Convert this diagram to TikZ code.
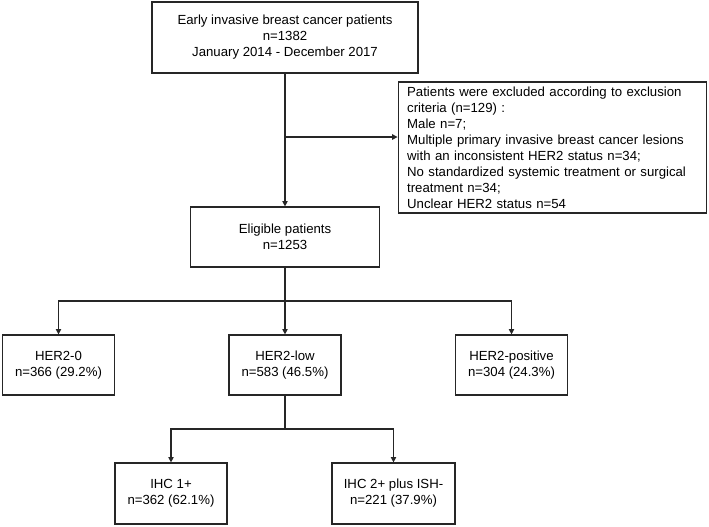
\documentclass[tikz,border=0pt]{standalone}
\usepackage{fontspec}
\setmainfont{Liberation Sans}
\usetikzlibrary{arrows.meta}
\begin{document}
\begin{tikzpicture}[x=0.75pt,y=-0.75pt,
  box/.style={draw=black!85,line width=0.9pt,align=center,
    font=\fontsize{9.9}{12}\selectfont,minimum height=45pt},
  arr/.style={draw=black!85,line width=0.8pt,-{Triangle[length=4pt,width=4pt]}},
  ln/.style={draw=black!85,line width=0.8pt}]
\useasboundingbox (0,0) rectangle (709,526);
% coordinates
\coordinate (split)   at (285,137);%
\coordinate (branch)  at (285,301);%
\coordinate (branch2) at (285,429);%
% nodes
\node[box,minimum width=199.5pt,minimum height=53.25pt] (all) at (285,37.5)
  {Early invasive breast cancer patients\\ n=1382\\ January 2014 - December 2017};
\node[box,align=left,text width=218pt,inner xsep=6.75pt,minimum height=98.25pt] (excl) at (552.5,147.5)
  {Patients were excluded according to exclusion\\ criteria (n=129) :\\ Male n=7;\\
   Multiple primary invasive breast cancer lesions\\ with an inconsistent HER2 status n=34;\\
   No standardized systemic treatment or surgical\\ treatment n=34;\\ Unclear HER2 status n=54};
\node[box,minimum width=141.75pt] (elig) at (285,237) {Eligible patients\\ n=1253};
\node[box,minimum width=84pt] (her0)   at (58.5,365)  {HER2-0\\ n=366 (29.2\%)};
\node[box,minimum width=84pt] (herlow) at (285,365)   {HER2-low\\ n=583 (46.5\%)};
\node[box,minimum width=84pt] (herpos) at (511.5,365) {HER2-positive\\ n=304 (24.3\%)};
\node[box,minimum width=84pt,minimum height=45.75pt]    (ihc1) at (171,493.5)   {IHC 1+\\ n=362 (62.1\%)};
\node[box,minimum width=92.25pt,minimum height=45.75pt] (ihc2) at (393.5,493.5) {IHC 2+ plus ISH-\\ n=221 (37.9\%)};
% connectors
\draw[arr] (all) -- (elig);
\draw[arr] (split) -- (split -| excl.west);
\draw[ln]  (elig) -- (branch);
\draw[arr] (branch) -| (her0);
\draw[arr] (branch) -- (herlow);
\draw[arr] (branch) -| (herpos);
\draw[ln]  (herlow) -- (branch2);
\draw[arr] (branch2) -| (ihc1);
\draw[arr] (branch2) -| (ihc2);
\end{tikzpicture}
\end{document}
